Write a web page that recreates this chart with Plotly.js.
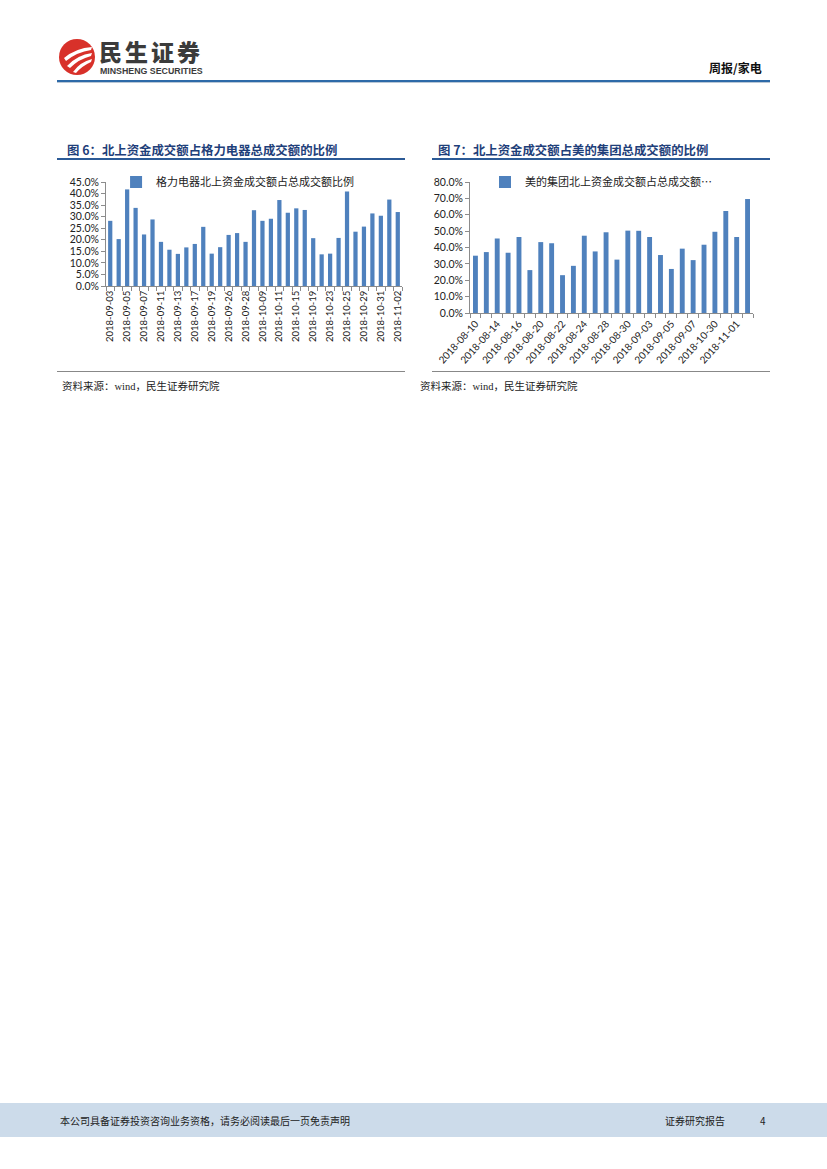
<!DOCTYPE html>
<html>
<head>
<meta charset="utf-8">
<script src="https://cdn.plot.ly/plotly-3.0.1.min.js"></script>
<style>
  html, body { margin:0; padding:0; background:#fff; }
  body { width:827px; height:1169px; position:relative; overflow:hidden; font-family:"Noto Sans CJK SC", sans-serif; }
  .abs { position:absolute; }
  .title { font-family:"Noto Sans CJK SC"; font-weight:700; font-size:12.4px; color:#1f3f7a; white-space:nowrap; line-height:16px; }
  .src { font-family:"Liberation Serif","Noto Sans CJK SC"; font-size:10.5px; color:#222; white-space:nowrap; line-height:14px; }
</style>
</head>
<body>
<!-- header -->
<svg class="abs" style="left:58px;top:38px" width="40" height="40" viewBox="0 0 40 40">
  <circle cx="19" cy="19" r="18" fill="#d8312a"/>
  <path d="M6 20 Q18 10 34 9 L33 12 Q19 14 8 23 Z" fill="#fff"/>
  <path d="M9 28 Q19 17 34 15 L33 18 Q21 21 12 30 Z" fill="#fff"/>
  <path d="M15 34 Q22 24 34 21 L33 24 Q24 28 18 35 Z" fill="#fff"/>
</svg>
<div class="abs" style="left:99px;top:37px;font-family:'Noto Sans CJK SC';font-weight:900;font-size:23px;color:#3b3b3b;letter-spacing:3px;line-height:28px">民生证券</div>
<div class="abs" style="left:100px;top:66px;font-family:'Liberation Sans';font-weight:700;font-size:8.8px;color:#3b3b3b;line-height:10px">MINSHENG SECURITIES</div>
<div class="abs" style="left:709px;top:60px;font-family:'Noto Sans CJK SC';font-weight:700;font-size:12px;color:#111;line-height:16px">周报/家电</div>
<div class="abs" style="left:57px;top:80px;width:713px;height:2px;background:#2d6aa8"></div>
<div class="abs" style="left:57px;top:82px;width:713px;height:1px;background:#b9c7d6"></div>

<!-- titles -->
<div class="abs title" style="left:67px;top:142px">图 6：北上资金成交额占格力电器总成交额的比例</div>
<div class="abs" style="left:57px;top:158px;width:348px;height:2px;background:#2c5a96"></div>
<div class="abs title" style="left:438px;top:142px">图 7：北上资金成交额占美的集团总成交额的比例</div>
<div class="abs" style="left:432px;top:158px;width:338px;height:2px;background:#2c5a96"></div>

<div id="c1" class="abs" style="left:55px;top:170px;width:355px;height:190px"></div>
<div id="c2" class="abs" style="left:415px;top:170px;width:355px;height:200px"></div>

<div class="abs" style="left:57px;top:371px;width:348px;height:1px;background:#888"></div>
<div class="abs" style="left:432px;top:371px;width:338px;height:1px;background:#888"></div>
<div class="abs src" style="left:62px;top:380px">资料来源：wind，民生证券研究院</div>
<div class="abs src" style="left:420px;top:380px">资料来源：wind，民生证券研究院</div>

<!-- footer -->
<div class="abs" style="left:0;top:1103px;width:827px;height:34px;background:#ccdbea"></div>
<div class="abs" style="left:60px;top:1113px;font-size:10px;color:#222;white-space:nowrap;line-height:16px">本公司具备证券投资咨询业务资格，请务必阅读最后一页免责声明</div>
<div class="abs" style="left:665px;top:1113px;font-size:10px;color:#222;white-space:nowrap;line-height:16px">证券研究报告</div>
<div class="abs" style="left:760px;top:1113px;font-size:10px;color:#222;line-height:16px">4</div>

<script>
// ---- Chart 1 data (格力电器) ----
const geliDates = [
  "2018-09-03","2018-09-04","2018-09-05","2018-09-06","2018-09-07","2018-09-10",
  "2018-09-11","2018-09-12","2018-09-13","2018-09-14","2018-09-17","2018-09-18",
  "2018-09-19","2018-09-20","2018-09-26","2018-09-27","2018-09-28","2018-10-08",
  "2018-10-09","2018-10-10","2018-10-11","2018-10-12","2018-10-15","2018-10-16",
  "2018-10-19","2018-10-22","2018-10-23","2018-10-24","2018-10-25","2018-10-26",
  "2018-10-29","2018-10-30","2018-10-31","2018-11-01","2018-11-02"
];
const geliValues = [
  28.2,20.3,41.8,33.8,22.3,28.8,
  19.1,15.7,13.9,16.7,18.2,25.6,
  14.0,16.8,22.1,22.9,19.1,32.8,
  28.2,29.1,37.2,31.7,33.6,32.9,
  20.7,13.7,14.0,20.8,40.9,23.5,
  25.7,31.4,30.4,37.4,32.0
];
const geliName = "格力电器北上资金成交额占总成交额比例";
const geliTicks = [0,5,10,15,20,25,30,35,40,45];

// ---- Chart 2 data (美的集团) ----
const meidiDates = [
  "2018-08-10","2018-08-13","2018-08-14","2018-08-15","2018-08-16","2018-08-17",
  "2018-08-20","2018-08-21","2018-08-22","2018-08-23","2018-08-24","2018-08-27",
  "2018-08-28","2018-08-29","2018-08-30","2018-08-31","2018-09-03","2018-09-04",
  "2018-09-05","2018-09-06","2018-09-07","2018-10-29","2018-10-30","2018-10-31",
  "2018-11-01","2018-11-02"
];
const meidiValues = [
  35.0,37.2,45.5,36.8,46.4,26.2,
  43.3,42.6,23.1,28.8,47.2,37.6,
  49.3,32.6,50.3,50.2,46.4,35.4,
  26.9,39.3,32.3,41.7,49.6,62.3,
  46.4,69.6
];
const meidiName = "美的集团北上资金成交额占总成交额…";
const meidiTicks = [0,10,20,30,40,50,60,70,80];

const barColor = "#4f81bd";
const axisGray = "#8c8c8c";
const yTickFont = {family:"Lato, 'Liberation Sans', sans-serif", size:10.5, color:"#222"};
const xTickFont = {family:"Lato, 'Liberation Sans', sans-serif", size:9.5, color:"#222"};

function makeChart(id, dates, values, name, yticks, ymax, opts) {
  const trace = {
    type:"bar", x:dates, y:values, name:name, marker:{color:barColor},
    showlegend:true
  };
  const layout = {
    width:355, height:opts.h,
    margin:{l:opts.l, r:opts.r, t:12, b:opts.b, autoexpand:false},
    paper_bgcolor:"rgba(0,0,0,0)", plot_bgcolor:"rgba(0,0,0,0)",
    bargap:opts.gap,
    showlegend:true,
    legend:{x:opts.lx, y:1.0, xanchor:"left", yanchor:"middle",
      font:{family:"'Noto Sans CJK SC', sans-serif", size:11, color:"#222"},
      itemwidth:30, bgcolor:"rgba(0,0,0,0)", tracegroupgap:0},
    xaxis:{type:"category", tickmode:"linear", tick0:0, dtick:1, ticklabelstep:2,
      tickson:"boundaries", ticks:"outside", ticklen:4, tickcolor:axisGray,
      showline:true, linecolor:axisGray, linewidth:1, showgrid:false,
      tickangle:opts.angle, tickfont:opts.xfont, automargin:false},
    yaxis:{range:[0,ymax], tickmode:"array", tickvals:yticks,
      ticktext:yticks.map(v=>v.toFixed(1)+"%"),
      ticks:"outside", ticklen:4, tickcolor:axisGray, showline:true,
      linecolor:axisGray, linewidth:1, showgrid:false, zeroline:false,
      tickfont:yTickFont, automargin:false}
  };
  Plotly.newPlot(id, [trace], layout, {staticPlot:true, displayModeBar:false});
}

makeChart("c1", geliDates, geliValues, geliName, geliTicks, 45,
  {h:190, l:51, r:8, b:74, gap:0.5, angle:-90, lx:0.034, xfont:xTickFont});
makeChart("c2", meidiDates, meidiValues, meidiName, meidiTicks, 80,
  {h:200, l:55, r:17, b:57, gap:0.55, angle:-48, lx:0.053,
   xfont:{family:"Lato, 'Liberation Sans', sans-serif", size:10, color:"#222"}});
</script>
</body>
</html>
